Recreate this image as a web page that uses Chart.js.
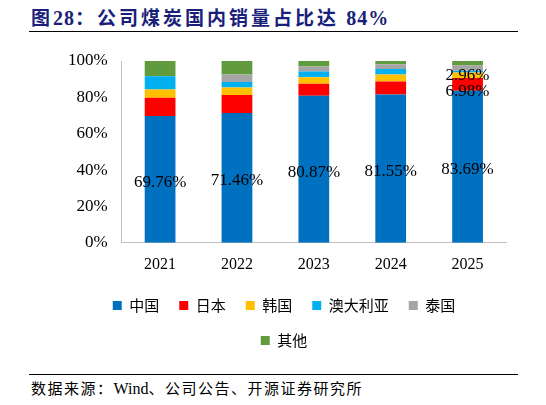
<!DOCTYPE html>
<html><head><meta charset="utf-8">
<script src="https://cdn.jsdelivr.net/npm/chart.js@4"></script>
<style>
body{margin:0;width:546px;height:405px;background:#fff;position:relative;overflow:hidden}
#title{position:absolute;left:31px;top:3px;font:bold 19px "Noto Sans CJK SC","Liberation Serif";color:#1a1f7a;letter-spacing:3px}
#title span{font-family:"Liberation Serif";font-size:20px;letter-spacing:1px}
.rule{position:absolute;left:29px;width:489px;height:1px;background:#000}
#src{position:absolute;left:31px;top:377px;font:15px "Noto Sans CJK SC";color:#000;letter-spacing:1.5px}
#src span{font-family:"Liberation Serif";font-size:16px;letter-spacing:0}
#wrap{position:absolute;left:0;top:40px;width:546px;height:318px}
</style></head><body>
<div id="title">图<span>28</span>：公司煤炭国内销量占比达 <span>84%</span></div>
<div class="rule" style="top:31px"></div>
<div id="wrap"><canvas id="c"></canvas></div>
<div class="rule" style="top:374px"></div>
<div id="src">数据来源：<span>Wind</span>、公司公告、开源证券研究所</div>
<script>
const categories=["2021","2022","2023","2024","2025"];
const china=[69.76,71.46,80.87,81.55,83.69];
const japan=[10.0,9.8,6.6,7.2,6.98];
const korea=[4.5,4.2,3.6,3.8,2.96];
const australia=[7.4,3.0,3.2,3.0,1.0];
const thailand=[0,4.1,2.7,2.7,2.9];
const other=[8.3,7.5,3.2,1.8,2.47];
const chinaLabels=["69.76%","71.46%","80.87%","81.55%","83.69%"];
const japanLabels=["","","","","6.98%"];
const koreaLabels=["","","","","2.96%"];
const yTicks=["0%","20%","40%","60%","80%","100%"];

const mk=(label,data,color,labels)=>({label,data,backgroundColor:color,labels,barPercentage:0.8,categoryPercentage:0.5});
const labelPlugin={id:'lbl',afterDatasetsDraw(chart){
 const ctx=chart.ctx;ctx.save();ctx.font='17px "Liberation Serif"';ctx.fillStyle='#000';ctx.textAlign='center';ctx.textBaseline='middle';
 chart.data.datasets.forEach((ds,i)=>{if(!ds.labels)return;chart.getDatasetMeta(i).data.forEach((el,j)=>{const t=ds.labels[j];if(!t)return;
  let y=(el.y+el.base)/2; if(i===0)y+=3; if(i===1)y+=7; ctx.fillText(t,el.x,y);});});ctx.restore();}};
new Chart(document.getElementById('c'),{type:'bar',
 data:{labels:categories,datasets:[mk('中国',china,'#0070c0',chinaLabels),mk('日本',japan,'#ff0000',japanLabels),mk('韩国',korea,'#ffc000',koreaLabels),mk('澳大利亚',australia,'#00b0f0'),mk('泰国',thailand,'#a5a5a5'),mk('其他',other,'#629b3e')]},
 options:{responsive:true,maintainAspectRatio:false,animation:false,
  layout:{padding:{left:62,right:40,top:21,bottom:0}},
  plugins:{tooltip:{enabled:false},legend:{position:'bottom',labels:{boxWidth:9,boxHeight:9,padding:20,color:'#000',font:{family:'"Noto Sans CJK SC"',size:15}}}},
  scales:{x:{stacked:true,grid:{display:false},border:{color:'#bfbfbf'},ticks:{color:'#000',padding:4,font:{family:'"Liberation Serif"',size:16}}},
   y:{stacked:true,min:0,max:100,grid:{display:false},border:{color:'#bfbfbf'},ticks:{stepSize:20,padding:6,color:'#000',font:{family:'"Liberation Serif"',size:17},callback:(v,i)=>yTicks[i]}}}},
 plugins:[labelPlugin]});
</script></body></html>
